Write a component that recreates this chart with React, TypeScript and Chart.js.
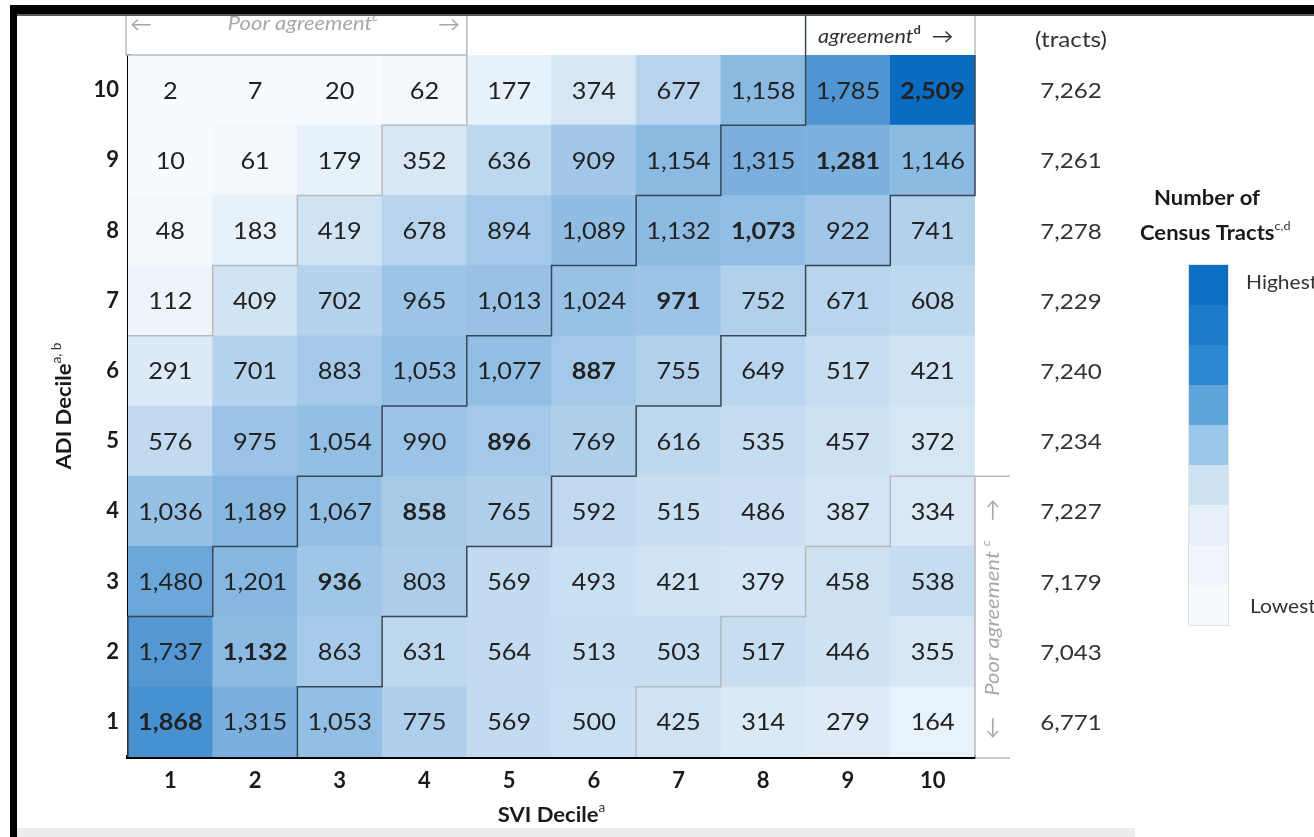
import { useEffect, useRef } from 'react';
import { Chart, registerables } from 'chart.js';

Chart.register(...registerables);

// SVI deciles along x, ADI deciles along y
const sviDeciles = ['1', '2', '3', '4', '5', '6', '7', '8', '9', '10'];
const adiDeciles = [1, 2, 3, 4, 5, 6, 7, 8, 9, 10];

// Census tract counts for each ADI decile, by SVI decile 1..10
const adi1 = [1868, 1315, 1053, 775, 569, 500, 425, 314, 279, 164];
const adi2 = [1737, 1132, 863, 631, 564, 513, 503, 517, 446, 355];
const adi3 = [1480, 1201, 936, 803, 569, 493, 421, 379, 458, 538];
const adi4 = [1036, 1189, 1067, 858, 765, 592, 515, 486, 387, 334];
const adi5 = [576, 975, 1054, 990, 896, 769, 616, 535, 457, 372];
const adi6 = [291, 701, 883, 1053, 1077, 887, 755, 649, 517, 421];
const adi7 = [112, 409, 702, 965, 1013, 1024, 971, 752, 671, 608];
const adi8 = [48, 183, 419, 678, 894, 1089, 1132, 1073, 922, 741];
const adi9 = [10, 61, 179, 352, 636, 909, 1154, 1315, 1281, 1146];
const adi10 = [2, 7, 20, 62, 177, 374, 677, 1158, 1785, 2509];
const adiRows = [adi1, adi2, adi3, adi4, adi5, adi6, adi7, adi8, adi9, adi10];

// Totals column, listed for ADI deciles 1..10
const tractTotals = [6771, 7043, 7179, 7227, 7234, 7240, 7229, 7278, 7261, 7262];

// Colour key swatches, highest to lowest
const legendSwatches = [
  '#0c6fc2', '#1b7ac9', '#2c88d1', '#5ea5db', '#9dc7e8',
  '#cfe2f4', '#e7f0fa', '#eff5fb', '#f6f9fd',
];

const LOW = [248, 251, 254];
const HIGH = [10, 108, 192];
const maxCount = Math.max(...adiRows.flat());

function cellColor(v: number): string {
  const t = Math.min(1, v / maxCount);
  const c = LOW.map((lo, i) => Math.round(lo + (HIGH[i] - lo) * t));
  return `rgb(${c[0]},${c[1]},${c[2]})`;
}

const fmt = (v: number) => v.toLocaleString('en-US');

type Run = { text: string; font: string; color: string; dy?: number };

function drawRuns(
  ctx: CanvasRenderingContext2D,
  runs: Run[],
  x: number,
  y: number,
  rot = 0,
  align: 'left' | 'center' | 'right' = 'center',
  sx = 1.1,
) {
  ctx.save();
  ctx.translate(x, y);
  ctx.rotate(rot);
  ctx.scale(sx, 1);
  let total = 0;
  const widths = runs.map((r) => {
    ctx.font = r.font;
    const w = ctx.measureText(r.text).width;
    total += w;
    return w;
  });
  let cur = align === 'center' ? -total / 2 : align === 'right' ? -total : 0;
  ctx.textBaseline = 'middle';
  ctx.textAlign = 'left';
  runs.forEach((r, i) => {
    ctx.font = r.font;
    ctx.fillStyle = r.color;
    ctx.fillText(r.text, cur, r.dy || 0);
    cur += widths[i];
  });
  ctx.restore();
}

const FONT = 'Lato, "Noto Sans", sans-serif';

const overlayPlugin = {
  id: 'heatOverlay',
  afterDatasetsDraw(chart: any) {
    const { ctx, chartArea } = chart;
    // value labels inside cells
    adiRows.forEach((row, i) => {
      const meta = chart.getDatasetMeta(i);
      row.forEach((v, j) => {
        const el = meta.data[j];
        if (!el) return;
        const cy = (el.y + el.base) / 2;
        const bold = i === j;
        drawRuns(ctx, [{
          text: fmt(v),
          font: `${bold ? 'bold ' : ''}23px ${FONT}`,
          color: '#222',
        }], el.x, cy + 1, 0, 'center', 1.1);
      });
    });

    const xs = chart.scales.x;
    const ys = chart.scales.y;
    const cw = (chartArea.right - chartArea.left) / sviDeciles.length;
    const colLeft = (c: number) => xs.getPixelForValue(c - 1) - cw / 2;
    const colRight = (c: number) => xs.getPixelForValue(c - 1) + cw / 2;
    const rowTop = (r: number) => ys.getPixelForValue(r + 0.5);
    const rowBottom = (r: number) => ys.getPixelForValue(r - 0.5);
    const headerTop = 12;
    const sideRight = 1010;

    ctx.save();
    ctx.lineJoin = 'miter';

    // poor-agreement outlines (|ADI - SVI| >= 6)
    ctx.strokeStyle = '#b9b9b9';
    ctx.lineWidth = 1.5;
    ctx.beginPath();
    ctx.moveTo(chartArea.left - 2, headerTop);
    ctx.lineTo(chartArea.left - 2, chartArea.top);
    ctx.lineTo(colRight(4), chartArea.top);
    ctx.moveTo(colRight(4), headerTop);
    for (let r = 10; r >= 7; r--) {
      const c = r - 6;
      ctx.lineTo(colRight(c), rowTop(r));
      ctx.lineTo(colRight(c), rowBottom(r));
    }
    ctx.lineTo(colLeft(1), rowBottom(7));
    ctx.stroke();

    ctx.beginPath();
    ctx.moveTo(colLeft(7), rowBottom(1));
    for (let r = 1; r <= 4; r++) {
      const c = r + 6;
      ctx.lineTo(colLeft(c), rowTop(r));
      ctx.lineTo(r < 4 ? colLeft(c + 1) : sideRight, rowTop(r));
    }
    ctx.moveTo(colRight(10), rowBottom(1) + 1);
    ctx.lineTo(sideRight, rowBottom(1) + 1);
    ctx.moveTo(colRight(10), rowTop(4));
    ctx.lineTo(colRight(10), rowBottom(1));
    ctx.moveTo(colRight(10), headerTop);
    ctx.lineTo(colRight(10), chartArea.top);
    ctx.stroke();

    // agreement band outline (|ADI - SVI| <= 1)
    ctx.strokeStyle = '#3b4654';
    ctx.lineWidth = 1.5;
    ctx.beginPath();
    for (let r = 10; r >= 1; r--) {
      const c = Math.max(1, r - 1);
      if (r === 10) ctx.moveTo(colLeft(c), headerTop);
      else ctx.lineTo(colLeft(c), rowTop(r));
      ctx.lineTo(colLeft(c), rowBottom(r));
    }
    ctx.stroke();
    ctx.beginPath();
    for (let r = 1; r <= 10; r++) {
      const c = Math.min(10, r + 1);
      if (r === 1) ctx.moveTo(colRight(c), rowBottom(r));
      else ctx.lineTo(colRight(c), rowBottom(r));
      ctx.lineTo(colRight(c), rowTop(r));
    }
    ctx.stroke();
    ctx.restore();

    // header annotations
    const grey = '#a8a8a8';
    drawRuns(ctx, [{ text: '←', font: `20px ${FONT}`, color: grey }], 141, 25);
    drawRuns(ctx, [
      { text: 'Poor agreement', font: `italic 20px ${FONT}`, color: grey },
      { text: 'c', font: `italic 12px ${FONT}`, color: grey, dy: -7 },
    ], 303, 24);
    drawRuns(ctx, [{ text: '→', font: `20px ${FONT}`, color: grey }], 449, 25);

    drawRuns(ctx, [
      { text: 'agreement', font: `italic 20px ${FONT}`, color: '#333' },
      { text: 'd', font: `bold 12px ${FONT}`, color: '#333', dy: -7 },
      { text: '  →', font: `20px ${FONT}`, color: '#333' },
    ], 818, 37, 0, 'left', 1.08);

    // right-hand poor agreement label
    drawRuns(ctx, [
      { text: 'Poor agreement ', font: `italic 20px ${FONT}`, color: grey },
      { text: 'c', font: `italic 12px ${FONT}`, color: grey, dy: -7 },
    ], 993, 618, -Math.PI / 2);
    drawRuns(ctx, [{ text: '→', font: `20px ${FONT}`, color: grey }], 993, 510, -Math.PI / 2);
    drawRuns(ctx, [{ text: '←', font: `20px ${FONT}`, color: grey }], 993, 728, -Math.PI / 2);

    // totals column
    drawRuns(ctx, [{ text: '(tracts)', font: `22px ${FONT}`, color: '#333' }], 1071, 40);
    tractTotals.forEach((t, i) => {
      const r = adiDeciles[i];
      drawRuns(ctx, [{ text: fmt(t), font: `22px ${FONT}`, color: '#333' }], 1071, ys.getPixelForValue(r) + 1);
    });

    // axis titles
    drawRuns(ctx, [
      { text: 'ADI Decile', font: `bold 21px ${FONT}`, color: '#1a1a1a' },
      { text: 'a, b', font: `13px ${FONT}`, color: '#333', dy: -7 },
    ], 64, (chartArea.top + chartArea.bottom) / 2, -Math.PI / 2, 'center', 1.05);
    drawRuns(ctx, [
      { text: 'SVI Decile', font: `bold 21px ${FONT}`, color: '#1a1a1a' },
      { text: 'a', font: `13px ${FONT}`, color: '#333', dy: -7 },
    ], (chartArea.left + chartArea.right) / 2, 815, 0, 'center', 1.05);

    // colour key
    drawRuns(ctx, [{ text: 'Number of', font: `bold 21px ${FONT}`, color: '#1a1a1a' }], 1207, 198, 0, 'center', 1.05);
    drawRuns(ctx, [
      { text: 'Census Tracts', font: `bold 21px ${FONT}`, color: '#1a1a1a' },
      { text: 'c,d', font: `12px ${FONT}`, color: '#333', dy: -7 },
    ], 1140, 233, 0, 'left', 1.05);
    const kx = 1189;
    const kw = 39;
    const ky = 265;
    const kh = 40;
    legendSwatches.forEach((col, i) => {
      ctx.fillStyle = col;
      ctx.fillRect(kx, ky + i * kh, kw, kh);
    });
    ctx.strokeStyle = '#e2e2e2';
    ctx.lineWidth = 1;
    ctx.strokeRect(kx - 0.5, ky - 0.5, kw + 1, kh * legendSwatches.length + 1);
    drawRuns(ctx, [{ text: 'Highest', font: `20px ${FONT}`, color: '#333' }], 1246, 283, 0, 'left', 1.05);
    drawRuns(ctx, [{ text: 'Lowest', font: `20px ${FONT}`, color: '#333' }], 1250, 607, 0, 'left', 1.05);
  },
  afterDraw(chart: any) {
    const { ctx } = chart;
    ctx.save();
    ctx.fillStyle = '#ececec';
    ctx.fillRect(17, 828, 1118, 9);
    ctx.fillStyle = '#000';
    ctx.fillRect(10, 5, 1304, 9);
    ctx.fillRect(10, 5, 7, 832);
    ctx.fillStyle = '#5a5a5a';
    ctx.fillRect(17, 14, 1297, 2);
    ctx.restore();
  },
};

export default function App() {
  const canvasRef = useRef<HTMLCanvasElement | null>(null);

  useEffect(() => {
    const canvas = canvasRef.current;
    if (!canvas) return;
    const datasets = adiRows.map((row, i) => ({
      label: `ADI ${adiDeciles[i]}`,
      data: row.map(() => [adiDeciles[i] - 0.5, adiDeciles[i] + 0.5]),
      backgroundColor: row.map(cellColor),
      borderWidth: 0,
      grouped: false,
      barPercentage: 1,
      categoryPercentage: 1,
    }));
    const chart = new Chart(canvas, {
      type: 'bar',
      data: { labels: sviDeciles, datasets: datasets as any },
      options: {
        animation: false,
        responsive: false,
        devicePixelRatio: 1,
        layout: { padding: { left: 15, top: 55, right: 339, bottom: 0 } },
        plugins: { legend: { display: false }, tooltip: { enabled: false } },
        scales: {
          x: {
            type: 'category',
            offset: true,
            grid: { display: false, drawTicks: false },
            border: { display: true, color: '#000', width: 4 },
            ticks: {
              font: { family: 'Lato', size: 22, weight: 'bold' },
              color: '#1a1a1a',
              padding: 11,
            },
            afterFit: (s: any) => { s.height = 80; },
          },
          y: {
            type: 'linear',
            min: 0.5,
            max: 10.5,
            grid: { display: false, drawTicks: false },
            border: { display: true, color: '#000', width: 3 },
            afterBuildTicks: (s: any) => { s.ticks = adiDeciles.map((v) => ({ value: v })); },
            ticks: {
              font: { family: 'Lato', size: 22, weight: 'bold' },
              color: '#1a1a1a',
              padding: 9,
              callback: (v: any) => String(v),
            },
            afterFit: (s: any) => { s.width = 113; },
          },
        },
      },
      plugins: [overlayPlugin],
    });
    return () => chart.destroy();
  }, []);

  return (
    <div style={{ position: 'absolute', left: 0, top: 0, width: 1314, height: 837, background: '#fff' }}>
      <canvas ref={canvasRef} width={1314} height={837} />
    </div>
  );
}
